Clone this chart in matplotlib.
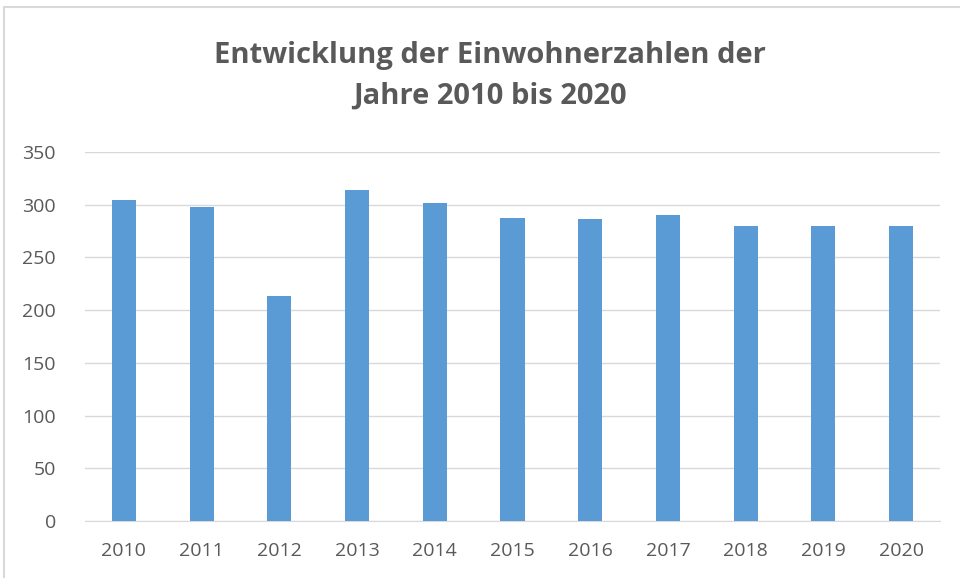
import matplotlib.pyplot as plt
from matplotlib.patches import Rectangle

jahre = ['2010', '2011', '2012', '2013', '2014', '2015', '2016', '2017', '2018', '2019', '2020']
einwohner = [304, 298, 213, 314, 302, 287, 286, 290, 280, 280, 280]
y_ticks = [0, 50, 100, 150, 200, 250, 300, 350]

grau = '#595959'

fig = plt.figure(figsize=(9.6, 5.78), dpi=100)
plt.rcParams['font.family'] = ['Open Sans', 'DejaVu Sans']

# heller Rahmen wie im Excel-Diagramm
fig.patches.append(Rectangle((4 / 960, -0.01), 1.0, 1 - 7 / 578 + 0.01, transform=fig.transFigure,
                             fill=False, edgecolor='#D9D9D9', linewidth=1.5))

ax = fig.add_axes([85 / 960, 1 - 521 / 578, 855 / 960, (521 - 152) / 578])
ax.bar(range(len(jahre)), einwohner, width=0.31, color='#5B9BD5', zorder=3)

ax.set_xlim(-0.5, len(jahre) - 0.5)
ax.set_ylim(0, 350)
ax.set_yticks(y_ticks)
ax.set_xticks(range(len(jahre)))
ax.set_xticklabels(jahre)
ax.tick_params(axis='both', length=0, colors=grau, labelsize=14)
ax.tick_params(axis='y', pad=21)
ax.tick_params(axis='x', pad=15)
ax.grid(axis='y', color='#D9D9D9', linewidth=1, zorder=0)
for s in ['top', 'right', 'left']:
    ax.spines[s].set_visible(False)
ax.spines['bottom'].set_color('#D9D9D9')

fig.text(0.51, 1 - 76 / 578, 'Entwicklung der Einwohnerzahlen der\nJahre 2010 bis 2020',
         ha='center', va='center', fontsize=21, fontweight='bold', color=grau, linespacing=1.55)

fig.savefig('out.png', dpi=100)
